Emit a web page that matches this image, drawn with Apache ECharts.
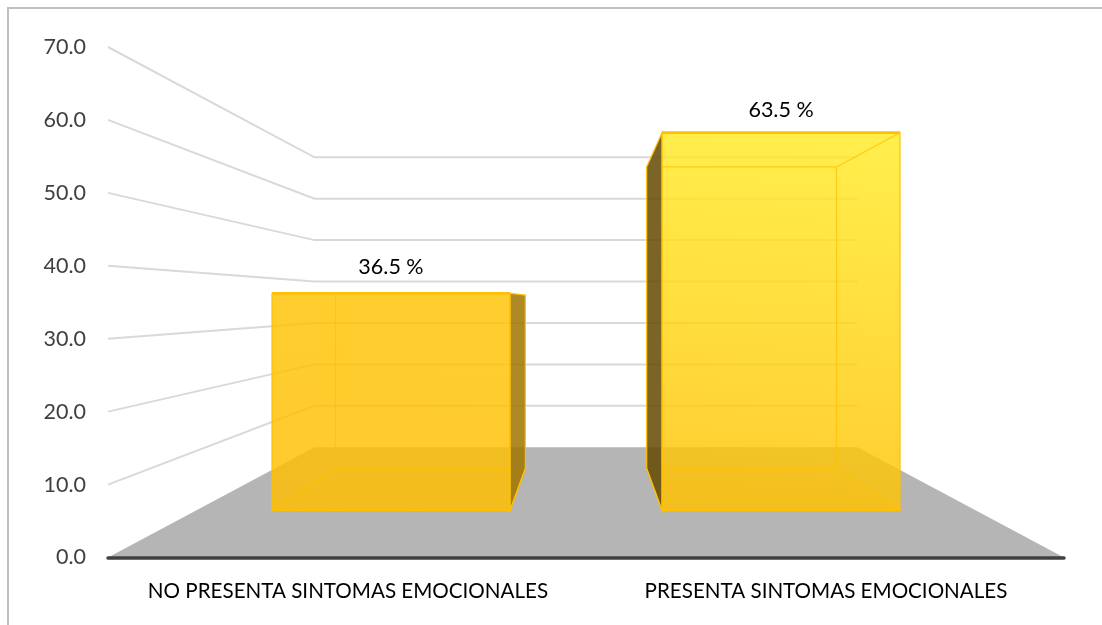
<!DOCTYPE html>
<html>
<head>
<meta charset="utf-8">
<style>html,body{margin:0;padding:0;background:#fff}#c{width:1102px;height:625px}</style>
<script src="https://cdn.jsdelivr.net/npm/echarts@6/dist/echarts.min.js"></script>
</head>
<body>
<div id="c"></div>
<script>
const categories = ['NO PRESENTA SINTOMAS EMOCIONALES', 'PRESENTA SINTOMAS EMOCIONALES'];
const percentages = [36.5, 63.5];
const yTicks = [10, 20, 30, 40, 50, 60, 70];

const AXIS_MAX = 70;
const FONT = 'Lato, "Open Sans", sans-serif';
const WALL_S = 0.568, BAR_FRONT_S = 0.816, BAR_BACK_S = 0.651;
const BAR_HALF = 0.305;
const LABEL_LIFT = [26, 23];

function view(api) {
  const a = api.coord([0, 0]), b = api.coord([1, 0]);
  const band = b[0] - a[0];
  const vx = (a[0] + b[0]) / 2;
  const vy = api.coord([0, AXIS_MAX / 2])[1];
  const proj = (p, s) => [vx + (p[0] - vx) * s, vy + (p[1] - vy) * s];
  return { a, b, band, vx, vy, proj };
}

function renderFloor(params, api) {
  const { a, b, band, proj } = view(api);
  const fl = [a[0] - band / 2, a[1]], fr = [b[0] + band / 2, b[1]];
  return {
    type: 'polygon',
    shape: { points: [fl, fr, proj(fr, WALL_S), proj(fl, WALL_S)] },
    style: { fill: '#b5b5b5' }
  };
}

function renderGrid(params, api) {
  const { a, b, band, proj } = view(api);
  const v = api.value(1);
  const y = api.coord([0, v])[1];
  const fl = [a[0] - band / 2, y], fr = [b[0] + band / 2, y];
  return {
    type: 'polyline',
    shape: { points: [fl, proj(fl, WALL_S), proj(fr, WALL_S)] },
    style: { fill: null, stroke: '#d9d9d9', lineWidth: 2 }
  };
}

function renderBar(params, api) {
  const { band, vx, proj } = view(api);
  const i = api.value(0), v = api.value(1);
  const base = api.coord([i, 0]), top = api.coord([i, v]);
  const h = band * BAR_HALF;
  const L = base[0] - h, R = base[0] + h;
  const corner = (x, y, s) => proj([x, y], s);
  const F = BAR_FRONT_S, B = BAR_BACK_S;
  const fbl = corner(L, base[1], F), fbr = corner(R, base[1], F);
  const ftl = corner(L, top[1], F), ftr = corner(R, top[1], F);
  const bbl = corner(L, base[1], B), bbr = corner(R, base[1], B);
  const btl = corner(L, top[1], B), btr = corner(R, top[1], B);
  const edge = 'rgba(255,192,0,0.75)';
  const tall = i === 1;
  const frontFill = new echarts.graphic.LinearGradient(0.12, 0, 0, 1, tall
    ? [{ offset: 0, color: 'rgba(255,234,37,0.82)' }, { offset: 1, color: 'rgba(255,192,0,0.82)' }]
    : [{ offset: 0, color: 'rgba(255,195,0,0.82)' }, { offset: 1, color: 'rgba(255,190,0,0.82)' }]);
  const sideIsRight = R < vx;
  const side = sideIsRight ? [ftr, btr, bbr, fbr] : [ftl, btl, bbl, fbl];
  const innerLeft = sideIsRight ? btl[0] : ftl[0];
  const innerRight = sideIsRight ? ftr[0] : btr[0];
  const poly = (points, fill, stroke, lw) => ({
    type: 'polygon', shape: { points },
    style: { fill, stroke, lineWidth: lw || 1 }
  });
  const line = (points, lw, color) => ({
    type: 'polyline', shape: { points },
    style: { fill: null, stroke: color || edge, lineWidth: lw || 1.2 }
  });
  const children = [
    poly([bbl, bbr, fbr, fbl], 'rgba(255,192,0,0.12)', null, 0),
    poly(side, tall ? 'rgba(99,73,2,0.85)' : 'rgba(160,118,0,0.85)', '#ffc000', 1.2),
    poly([ftl, ftr, fbr, fbl], frontFill, '#ffc000', 1.2),
    line([ftl, ftr], 2.6, '#ffc000'),
    line([[innerLeft, bbl[1]], [innerRight, bbr[1]]]),
    line([bbl, fbl]),
    line([bbr, fbr]),
    line(sideIsRight ? [btl, bbl] : [btr, bbr])
  ];
  if (tall) {
    children.push(line([[innerLeft, btl[1]], [innerRight, btr[1]]]));
    children.push(line([btr, ftr]));
  }
  children.push({
    type: 'text',
    style: {
      text: v.toFixed(1) + ' %',
      x: (ftl[0] + ftr[0]) / 2,
      y: ftl[1] - LABEL_LIFT[i],
      align: 'center', verticalAlign: 'middle',
      fill: '#000', font: '21.5px ' + FONT
    }
  });
  return { type: 'group', children };
}

const chart = echarts.init(document.getElementById('c'), null, { renderer: 'canvas' });
chart.setOption({
  animation: false,
  backgroundColor: '#fff',
  tooltip: { show: false },
  grid: { left: 108, right: 38, top: 47, bottom: 67.5, containLabel: false },
  xAxis: {
    type: 'category', data: categories, z: 5,
    axisTick: { show: false },
    axisLine: { show: true, lineStyle: { color: '#404040', width: 3.5, cap: 'round' } },
    axisLabel: { interval: 0, margin: 22, color: '#000', fontSize: 20.6, fontFamily: FONT, padding: [1, 0, 0, 2] },
    splitLine: { show: false }
  },
  yAxis: {
    type: 'value', min: 0, max: AXIS_MAX, interval: 10,
    axisLine: { show: false }, axisTick: { show: false }, splitLine: { show: false },
    axisLabel: { margin: 22, color: '#404040', fontSize: 21.5, fontFamily: FONT,
      formatter: v => v.toFixed(1) }
  },
  graphic: [
    { type: 'polyline', silent: true, z: 10, shape: { points: [[8, 625], [8, 8], [1102, 8]] },
      style: { fill: null, stroke: '#bfbfbf', lineWidth: 2 } }
  ],
  series: [
    { type: 'custom', z: 1, silent: true, renderItem: renderFloor, clip: false,
      data: [[0, 0]], encode: { x: 0, y: 1 } },
    { type: 'custom', z: 2, silent: true, renderItem: renderGrid, clip: false,
      data: yTicks.map(v => [0, v]), encode: { x: 0, y: 1 } },
    { type: 'custom', z: 3, silent: true, renderItem: renderBar, clip: false,
      data: percentages.map((v, i) => [i, v]), encode: { x: 0, y: 1 } }
  ]
});
</script>
</body>
</html>
